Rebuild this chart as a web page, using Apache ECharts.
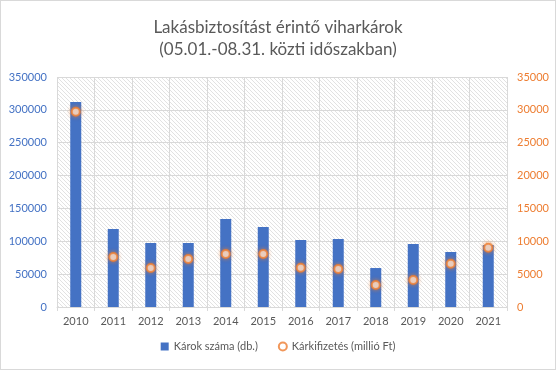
<!DOCTYPE html>
<html><head><meta charset="utf-8">
<script src="https://cdn.jsdelivr.net/npm/echarts@6/dist/echarts.min.js"></script>
<style>html,body{margin:0;padding:0;background:#fff}#c{width:556px;height:370px;box-sizing:border-box;border:1px solid #d9d9d9}</style>
</head><body><div id="c"></div>
<script>
var categories = ['2010','2011','2012','2013','2014','2015','2016','2017','2018','2019','2020','2021'];
var claimsCount = [312000,118700,97400,97400,133900,121700,102000,103500,59300,95900,83700,94300];
var payouts = [29700,7600,5930,7300,8070,8070,5980,5780,3350,4110,6590,9020];
var leftTicks = [0,350000,50000];
var rightTicks = [0,35000,5000];

var tile = document.createElement('canvas');
tile.width = 4; tile.height = 4;
var tc = tile.getContext('2d');
tc.fillStyle = '#ffffff'; tc.fillRect(0,0,4,4);
tc.fillStyle = '#e2e2e2';
for (var i=0;i<4;i++){ tc.fillRect(i,i,1,1); }

var chart = echarts.init(document.getElementById('c'));
var font = 'Lato';
function plain(v){ return String(v); }
chart.setOption({
  animation:false,
  title:{text:'Lakásbiztosítást érintő viharkárok\n(05.01.-08.31. közti időszakban)', left:'center', top:11,
    textStyle:{color:'#595959', fontSize:17, fontWeight:'normal', fontFamily:font, lineHeight:22}},
  legend:{bottom:12, left:'center', itemGap:20, itemWidth:8, itemHeight:8,
    textStyle:{color:'#595959', fontSize:11, fontFamily:font},
    data:[{name:'Károk száma (db.)', icon:'rect'},{name:'Kárkifizetés (millió Ft)', icon:'circle', itemStyle:{color:'#ffffff', borderColor:'#ED7D31', borderWidth:2}}]},
  grid:{left:56, right:48, top:76, bottom:62, show:true, borderWidth:0, backgroundColor:{image:tile, repeat:'repeat'}},
  xAxis:{type:'category', data:categories, boundaryGap:true,
    axisLine:{lineStyle:{color:'#d9d9d9'}}, axisTick:{show:true, length:4, lineStyle:{color:'#d9d9d9'}},
    splitLine:{show:true, lineStyle:{color:'#d9d9d9'}},
    axisLabel:{color:'#595959', fontSize:11, fontFamily:font, margin:9}},
  yAxis:[
    {type:'value', min:leftTicks[0], max:leftTicks[1], interval:leftTicks[2],
      axisLine:{show:false}, axisTick:{show:false},
      splitLine:{lineStyle:{color:'#d9d9d9'}},
      axisLabel:{color:'#4472C4', fontSize:11, fontFamily:font, margin:10, formatter:plain}},
    {type:'value', min:rightTicks[0], max:rightTicks[1], interval:rightTicks[2],
      axisLine:{show:false}, axisTick:{show:false}, splitLine:{show:false},
      axisLabel:{color:'#ED7D31', fontSize:11, fontFamily:font, margin:10, formatter:plain}}
  ],
  series:[
    {name:'Károk száma (db.)', type:'bar', data:claimsCount, barWidth:11, itemStyle:{color:'#4472C4'}},
    {name:'Kárkifizetés (millió Ft)', type:'scatter', yAxisIndex:1, data:payouts, symbol:'circle', symbolSize:8,
      itemStyle:{color:'#ffffff', borderColor:'#ED7D31', borderWidth:2, shadowBlur:4, shadowColor:'rgba(237,125,49,0.8)'}}
  ]
});
</script></body></html>
